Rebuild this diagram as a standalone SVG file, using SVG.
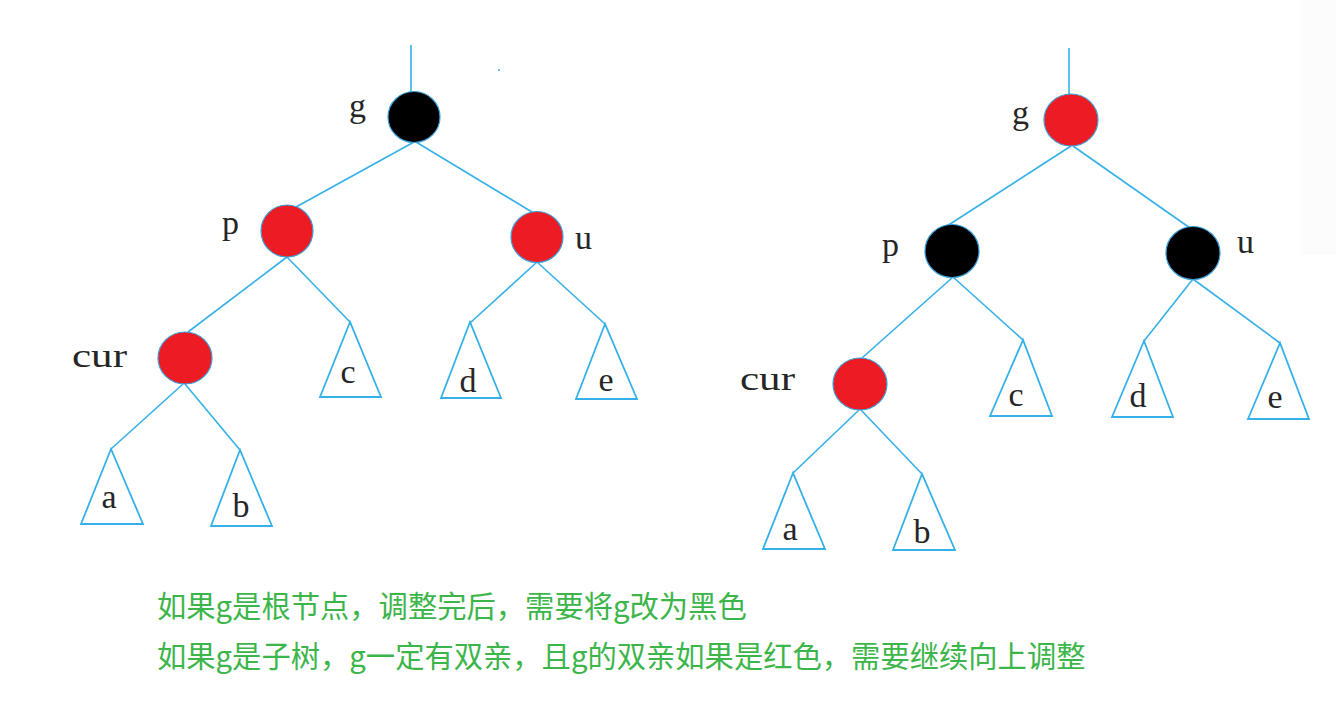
<svg xmlns="http://www.w3.org/2000/svg" width="1336" height="712" viewBox="0 0 1336 712">
<style>
.e{stroke:#35b0e8;stroke-width:1.6;fill:none}
.t{stroke:#35b0e8;stroke-width:1.8;fill:#fff;stroke-linejoin:miter}
.r{fill:#ed1c24;stroke:#3a9fd8;stroke-width:1.2}
.k{fill:#000;stroke:#3a9fd8;stroke-width:1.2}
.l{font-family:"Liberation Serif","DejaVu Serif",serif;font-size:34px;fill:#262626}
.m{text-anchor:middle}
.n{font-family:"Noto Sans CJK SC","Noto Sans",sans-serif;font-size:29.3px;fill:#3cb54a}
</style>
<rect width="1336" height="712" fill="#fff"/>
<rect x="1300" y="0" width="36" height="255" fill="#fcfcfc"/>
<g id="connectors">
<line class="e" x1="411" y1="45" x2="411" y2="91"/>
<line class="e" x1="414" y1="142" x2="296" y2="207"/>
<line class="e" x1="416" y1="142" x2="532" y2="212"/>
<line class="e" x1="287" y1="257" x2="188" y2="332"/>
<line class="e" x1="287" y1="257" x2="350" y2="322"/>
<line class="e" x1="537" y1="262" x2="470" y2="323"/>
<line class="e" x1="537" y1="262" x2="605" y2="324"/>
<line class="e" x1="183" y1="384" x2="111" y2="449"/>
<line class="e" x1="185" y1="384" x2="240" y2="450"/>
<line class="e" x1="1069" y1="48" x2="1069" y2="94"/>
<line class="e" x1="1071" y1="146" x2="947" y2="226"/>
<line class="e" x1="1073" y1="146" x2="1190" y2="228"/>
<line class="e" x1="953" y1="277" x2="862" y2="358"/>
<line class="e" x1="953" y1="277" x2="1023" y2="340"/>
<line class="e" x1="1193" y1="279" x2="1144" y2="341"/>
<line class="e" x1="1193" y1="279" x2="1280" y2="343"/>
<line class="e" x1="859" y1="410" x2="793" y2="473"/>
<line class="e" x1="861" y1="410" x2="922" y2="474"/>
<circle cx="499" cy="70" r="1" fill="#35b0e8"/>
</g>
<g id="L-g"><ellipse class="k" cx="414" cy="117" rx="26" ry="25.5"/><text class="l" x="349" y="117">g</text></g>
<g id="L-p"><ellipse class="r" cx="287" cy="231" rx="26" ry="26"/><text class="l" x="222" y="234">p</text></g>
<g id="L-u"><ellipse class="r" cx="537" cy="237" rx="26" ry="25.5"/><text class="l" x="575" y="249">u</text></g>
<g id="L-cur"><ellipse class="r" cx="185" cy="358" rx="27" ry="26"/><text class="l" x="72" y="367" textLength="55" lengthAdjust="spacingAndGlyphs">cur</text></g>
<g id="L-c"><polygon class="t" points="350,322 320,397 381,397"/><text class="l m" x="348" y="383">c</text></g>
<g id="L-d"><polygon class="t" points="470,322 441,398 501,398"/><text class="l m" x="468" y="392">d</text></g>
<g id="L-e"><polygon class="t" points="605,324 576,399 637,399"/><text class="l m" x="606" y="391">e</text></g>
<g id="L-a"><polygon class="t" points="111,449 81,524 143,524"/><text class="l m" x="109" y="508">a</text></g>
<g id="L-b"><polygon class="t" points="240,450 211,526 272,526"/><text class="l m" x="241" y="517">b</text></g>
<g id="R-g"><ellipse class="r" cx="1071" cy="120" rx="27" ry="26"/><text class="l" x="1012" y="124">g</text></g>
<g id="R-p"><ellipse class="k" cx="952" cy="251" rx="27" ry="26.5"/><text class="l" x="882" y="256">p</text></g>
<g id="R-u"><ellipse class="k" cx="1193" cy="253" rx="27" ry="26.5"/><text class="l" x="1237" y="253">u</text></g>
<g id="R-cur"><ellipse class="r" cx="860" cy="384" rx="27" ry="26"/><text class="l" x="740" y="390" textLength="55" lengthAdjust="spacingAndGlyphs">cur</text></g>
<g id="R-c"><polygon class="t" points="1023,340 990,416 1052,416"/><text class="l m" x="1016" y="406">c</text></g>
<g id="R-d"><polygon class="t" points="1144,341 1112,417 1173,417"/><text class="l m" x="1138" y="407">d</text></g>
<g id="R-e"><polygon class="t" points="1280,343 1248,419 1309,419"/><text class="l m" x="1275" y="408">e</text></g>
<g id="R-a"><polygon class="t" points="793,473 763,549 825,549"/><text class="l m" x="790" y="540">a</text></g>
<g id="R-b"><polygon class="t" points="922,474 893,550 955,550"/><text class="l m" x="922" y="543">b</text></g>
<g id="notes">
<text class="n" x="157" y="617">如果g是根节点，调整完后，需要将g改为黑色</text>
<text class="n" x="157" y="667">如果g是子树，g一定有双亲，且g的双亲如果是红色，需要继续向上调整</text>
</g>
</svg>
